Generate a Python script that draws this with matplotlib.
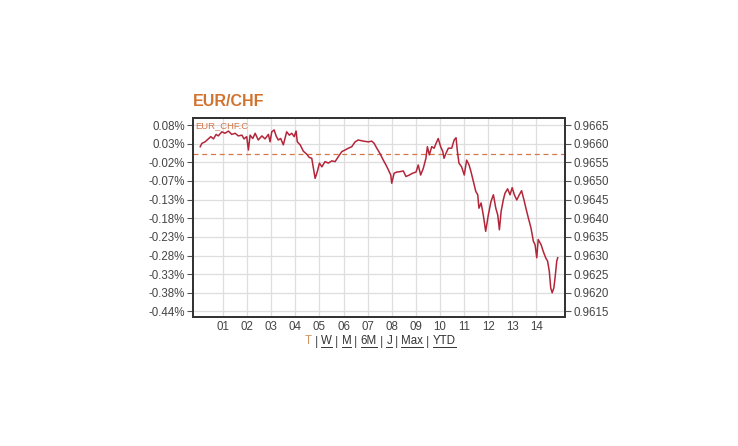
import matplotlib
matplotlib.use("Agg")
import matplotlib.pyplot as plt
from matplotlib.lines import Line2D

plt.rcParams['font.family'] = ['Liberation Sans', 'DejaVu Sans']

# day of month (fractional) and EUR/CHF price
days = [0.05, 0.12, 0.25, 0.39, 0.49, 0.60, 0.71, 0.80, 0.95, 1.08,
        1.22, 1.36, 1.50, 1.63, 1.78, 1.87, 1.98, 2.05, 2.12, 2.23,
        2.33, 2.46, 2.61, 2.74, 2.88, 2.95, 3.02, 3.12, 3.20, 3.29,
        3.39, 3.50, 3.64, 3.75, 3.85, 3.95, 4.03, 4.08, 4.20, 4.27,
        4.33, 4.47, 4.58, 4.68, 4.75, 4.82, 4.91, 5.00, 5.10, 5.23,
        5.37, 5.51, 5.65, 5.78, 5.93, 6.06, 6.20, 6.34, 6.48, 6.61,
        6.82, 7.03, 7.17, 7.27, 7.38, 7.51, 7.65, 7.76, 7.86, 7.96,
        8.00, 8.10, 8.21, 8.34, 8.48, 8.59, 8.73, 8.87, 9.01, 9.10,
        9.20, 9.31, 9.42, 9.48, 9.56, 9.66, 9.76, 9.84, 9.93, 10.03,
        10.12, 10.17, 10.25, 10.35, 10.49, 10.59, 10.67, 10.72, 10.79, 10.90,
        11.01, 11.11, 11.21, 11.29, 11.39, 11.49, 11.57, 11.62, 11.71, 11.80,
        11.90, 12.01, 12.12, 12.22, 12.32, 12.40, 12.47, 12.54, 12.63, 12.70,
        12.81, 12.91, 13.00, 13.09, 13.19, 13.28, 13.39, 13.49, 13.57, 13.67,
        13.78, 13.88, 13.95, 14.02, 14.08, 14.20, 14.29, 14.39, 14.47, 14.54,
        14.60, 14.66, 14.73, 14.78, 14.85, 14.89]
price = [0.96592, 0.96601, 0.96605, 0.96613, 0.96619, 0.96613, 0.96625, 0.96621, 0.96632, 0.96628,
         0.96634, 0.96625, 0.96628, 0.96621, 0.96623, 0.96613, 0.96619, 0.96583, 0.96623, 0.96614,
         0.96628, 0.96610, 0.96621, 0.96613, 0.96625, 0.96605, 0.96632, 0.96637, 0.96621, 0.96610,
         0.96614, 0.96597, 0.96632, 0.96623, 0.96628, 0.96619, 0.96634, 0.96605, 0.96597, 0.96588,
         0.96580, 0.96572, 0.96563, 0.96561, 0.96534, 0.96507, 0.96525, 0.96548, 0.96538, 0.96552,
         0.96548, 0.96554, 0.96552, 0.96565, 0.96579, 0.96583, 0.96588, 0.96592, 0.96605, 0.96610,
         0.96607, 0.96605, 0.96607, 0.96601, 0.96588, 0.96574, 0.96556, 0.96543, 0.96530, 0.96516,
         0.96494, 0.96521, 0.96524, 0.96525, 0.96527, 0.96512, 0.96516, 0.96521, 0.96524, 0.96543,
         0.96516, 0.96534, 0.96561, 0.96592, 0.96570, 0.96592, 0.96588, 0.96601, 0.96614, 0.96592,
         0.96579, 0.96561, 0.96574, 0.96588, 0.96588, 0.96610, 0.96616, 0.96583, 0.96548, 0.96538,
         0.96516, 0.96556, 0.96543, 0.96525, 0.96498, 0.96472, 0.96463, 0.96427, 0.96441, 0.96409,
         0.96365, 0.96409, 0.96445, 0.96463, 0.96427, 0.96409, 0.96369, 0.96418, 0.96449, 0.96467,
         0.96479, 0.96463, 0.96482, 0.96463, 0.96449, 0.96461, 0.96474, 0.96449, 0.96427, 0.96401,
         0.96374, 0.96338, 0.96329, 0.96294, 0.96343, 0.96329, 0.96311, 0.96294, 0.96285, 0.96258,
         0.96213, 0.96200, 0.96213, 0.96240, 0.96285, 0.96294]

prev_close = 0.96572
price_ticks = [0.9665, 0.9660, 0.9655, 0.9650, 0.9645, 0.9640, 0.9635, 0.9630, 0.9625, 0.9620, 0.9615]
pct_labels = ['0.08%', '0.03%', '-0.02%', '-0.07%', '-0.13%', '-0.18%', '-0.23%',
              '-0.28%', '-0.33%', '-0.38%', '-0.44%']
day_ticks = list(range(1, 15))
day_labels = ['%02d' % d for d in day_ticks]

fig = plt.figure(figsize=(7.38, 4.46), dpi=100)
ax = fig.add_axes([0.2615, 0.2892, 0.504, 0.4462])

ax.plot(days, price, color='#b3263a', lw=1.1, zorder=3)
ax.axhline(prev_close, color='#d2784a', lw=0.9, dashes=(4, 3), zorder=2)

ax.set_xlim(-0.25, 15.19)
ax.set_ylim(0.96135, 0.96669)
ax.set_xticks(day_ticks)
ax.set_xticklabels(day_labels)
ax.set_yticks(price_ticks)
ax.set_yticklabels(pct_labels)
ax.grid(True, color='#dedede', lw=0.9)
ax.set_axisbelow(True)
ax.tick_params(axis='x', length=0, pad=3, labelsize=8.3, labelcolor='#444444')
ax.tick_params(axis='y', length=4, width=0.8, color='#555555', pad=2,
               labelsize=8.3, labelcolor='#444444')

ax2 = ax.twinx()
ax2.set_ylim(ax.get_ylim())
ax2.set_yticks(price_ticks)
ax2.set_yticklabels(['%.4f' % p for p in price_ticks])
ax2.tick_params(axis='y', length=4, width=0.8, color='#555555', pad=2,
                labelsize=8.3, labelcolor='#444444')

for a in (ax, ax2):
    for s in a.spines.values():
        s.set_color('#333333')
        s.set_linewidth(1.3)

ax.text(0.005, 0.985, 'EUR_CHF.C', transform=ax.transAxes, ha='left', va='top',
        fontsize=6.8, color='#d2784a')

fig.text(193 / 738, 1 - 101 / 446, 'EUR/CHF', ha='left', va='center',
         fontsize=11.5, fontweight='bold', color='#d2722f')

# period links below the chart
links = [('T', False), (' | ', False), ('W', True), (' | ', False), ('M', True),
         (' | ', False), ('6M', True), (' | ', False), ('J', True), (' | ', False),
         ('Max', True), (' | ', False), ('YTD', True)]
fig.canvas.draw()
r = fig.canvas.get_renderer()
x = 305
y = 446 - 341.5
for txt, under in links:
    col = '#d2945f' if txt == 'T' else '#333333'
    t = fig.text(x / 738, y / 446, txt, ha='left', va='center', fontsize=8.3, color=col)
    bb = t.get_window_extent(renderer=r)
    if under:
        fig.add_artist(Line2D([bb.x0 / 738, bb.x1 / 738], [(bb.y0 + 0.5) / 446] * 2,
                              transform=fig.transFigure, color='#333333', lw=0.7))
    x = bb.x1

fig.savefig('out.png', dpi=100, facecolor='white')
